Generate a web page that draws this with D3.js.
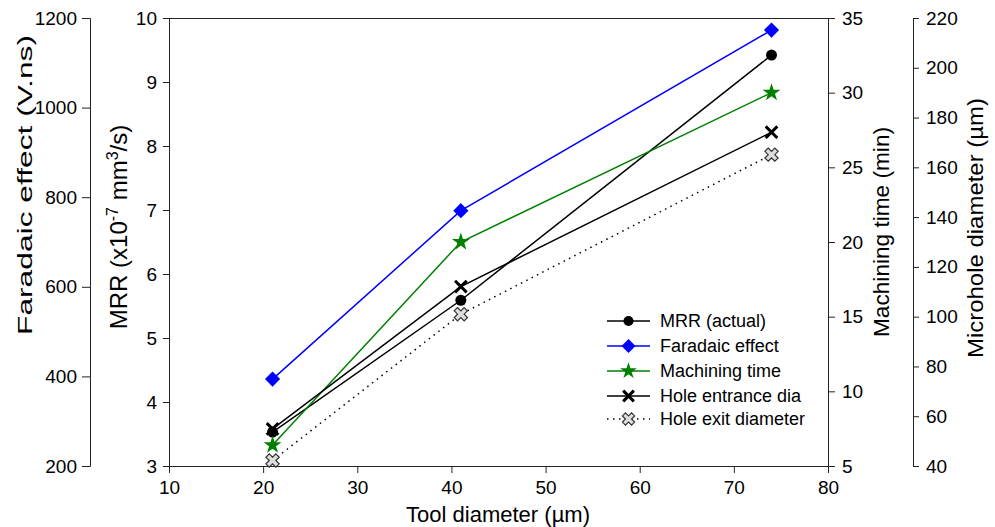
<!DOCTYPE html>
<html>
<head>
<meta charset="utf-8">
<script src="https://cdn.jsdelivr.net/npm/d3@7"></script>
<style>
    body { margin: 0; background: #fff; }
    svg { display: block; font-family: "Liberation Sans", Arial, sans-serif; }
    .axis text { font-size: 19px; fill: #000; }
    .axis path, .axis line { stroke: #222; }
    .title { font-size: 22px; fill: #000; }
    .legend text { font-size: 18px; fill: #000; }
</style>
</head>
<body>
<svg width="995" height="527"></svg>
<script>
// значения
const toolDiameter = [21, 41, 74];
const mrrActual = [3.53, 5.59, 9.42];
const faradaicEffect = [394, 770, 1173];
const machiningTime = [6.4, 20.0, 30.0];
const holeEntrance = [54.9, 112.1, 174.1];
const holeExit = [42.2, 101.0, 165.1];

const xTicks = [10, 20, 30, 40, 50, 60, 70, 80];
const mrrTicks = [3, 4, 5, 6, 7, 8, 9, 10];
const faradaicTicks = [200, 400, 600, 800, 1000, 1200];
const timeTicks = [5, 10, 15, 20, 25, 30, 35];
const holeTicks = [40, 60, 80, 100, 120, 140, 160, 180, 200, 220];

const legendNames = ["MRR (actual)", "Faradaic effect", "Machining time",
                     "Hole entrance dia", "Hole exit diameter"];

function drawChart() {
    const svg = d3.select("svg");
    const area = { left: 169, right: 828, top: 18, bottom: 466 };
    const fmt = d3.format("d");

    const scX = d3.scaleLinear().domain([10, 80]).range([area.left, area.right]);
    const yRange = [area.bottom, area.top];
    const scMrr = d3.scaleLinear().domain([3, 10]).range(yRange);
    const scFar = d3.scaleLinear().domain([200, 1200]).range(yRange);
    const scTime = d3.scaleLinear().domain([5, 35]).range(yRange);
    const scHole = d3.scaleLinear().domain([40, 220]).range(yRange);

    // оси
    svg.append("g").attr("class", "axis")
    .attr("transform", `translate(0, ${area.bottom})`)
    .call(d3.axisBottom(scX).tickValues(xTicks).tickFormat(fmt)
          .tickSizeOuter(0).tickSize(7).tickPadding(8));

    svg.append("g").attr("class", "axis")
    .attr("transform", `translate(${area.left}, 0)`)
    .call(d3.axisLeft(scMrr).tickValues(mrrTicks).tickFormat(fmt)
          .tickSizeOuter(0).tickSize(6).tickPadding(6));

    svg.append("g").attr("class", "axis")
    .attr("transform", `translate(90, 0)`)
    .call(d3.axisLeft(scFar).tickValues(faradaicTicks).tickFormat(fmt)
          .tickSizeOuter(0).tickSize(8).tickPadding(5));

    svg.append("g").attr("class", "axis")
    .attr("transform", `translate(${area.right}, 0)`)
    .call(d3.axisRight(scTime).tickValues(timeTicks).tickFormat(fmt)
          .tickSizeOuter(0).tickSize(7).tickPadding(7));

    svg.append("g").attr("class", "axis")
    .attr("transform", `translate(913, 0)`)
    .call(d3.axisRight(scHole).tickValues(holeTicks).tickFormat(fmt)
          .tickSizeOuter(0).tickSize(6).tickPadding(7));

    // верхняя рамка
    svg.append("line")
    .attr("x1", area.left).attr("x2", area.right)
    .attr("y1", area.top + 0.5).attr("y2", area.top + 0.5)
    .attr("stroke", "#222");

    // подписи осей
    svg.append("text").attr("class", "title")
    .attr("x", 498).attr("y", 522).attr("text-anchor", "middle")
    .attr("textLength", 184).attr("lengthAdjust", "spacingAndGlyphs")
    .text("Tool diameter (\u00b5m)");

    svg.append("text").attr("class", "title")
    .attr("transform", "translate(32, 185) rotate(-90)").attr("text-anchor", "middle")
    .style("font-size", "21px")
    .attr("textLength", 300).attr("lengthAdjust", "spacingAndGlyphs")
    .text("Faradaic effect (V.ns)");

    const mrrTitle = svg.append("text").attr("class", "title")
    .attr("transform", "translate(127, 227) rotate(-90)").attr("text-anchor", "middle")
    .style("font-size", "24px");
    mrrTitle.append("tspan").text("MRR (x10");
    mrrTitle.append("tspan").attr("dy", -9).style("font-size", "16px").text("-7");
    mrrTitle.append("tspan").attr("dy", 9).text(" mm");
    mrrTitle.append("tspan").attr("dy", -9).style("font-size", "16px").text("3");
    mrrTitle.append("tspan").attr("dy", 9).text("/s)");

    svg.append("text").attr("class", "title")
    .attr("transform", "translate(889, 232) rotate(-90)").attr("text-anchor", "middle")
    .attr("textLength", 210).attr("lengthAdjust", "spacingAndGlyphs")
    .text("Machining time (min)");

    svg.append("text").attr("class", "title")
    .attr("transform", "translate(983, 228) rotate(-90)").attr("text-anchor", "middle")
    .attr("textLength", 260).attr("lengthAdjust", "spacingAndGlyphs")
    .text("Microhole diameter (\u00b5m)");

    const series = [
        { values: mrrActual, sc: scMrr, color: "#000", dash: null, marker: "circle" },
        { values: faradaicEffect, sc: scFar, color: "#0000ff", dash: null, marker: "diamond" },
        { values: machiningTime, sc: scTime, color: "#008000", dash: null, marker: "star" },
        { values: holeEntrance, sc: scHole, color: "#000", dash: null, marker: "times" },
        { values: holeExit, sc: scHole, color: "#000", dash: "1.5,4.5", marker: "cross" }
    ];

    // линии
    series.forEach(s => {
        const pts = toolDiameter.map((x, i) => [scX(x), s.sc(s.values[i])]);
        svg.append("path")
        .attr("d", d3.line()(pts))
        .attr("fill", "none")
        .attr("stroke", s.color)
        .attr("stroke-width", 1.5)
        .attr("stroke-dasharray", s.dash);
    });

    // маркеры
    series.forEach(s => {
        toolDiameter.forEach((x, i) => {
            drawMarker(svg, s.marker, scX(x), s.sc(s.values[i]), s.color);
        });
    });

    // легенда
    const legend = svg.append("g").attr("class", "legend");
    const rowY = [321, 346, 371, 396, 419];
    series.forEach((s, i) => {
        legend.append("line")
        .attr("x1", 607).attr("x2", 650)
        .attr("y1", rowY[i]).attr("y2", rowY[i])
        .attr("stroke", s.color).attr("stroke-width", 1.5)
        .attr("stroke-dasharray", s.dash);
        drawMarker(legend, s.marker, 628.5, rowY[i], s.color, 0.85);
        legend.append("text")
        .attr("x", 660).attr("y", rowY[i]).attr("dy", "0.35em")
        .text(legendNames[i]);
    });
}

function drawMarker(g, type, x, y, color, k = 1) {
    if (type === "circle") {
        g.append("path").attr("d", d3.symbol(d3.symbolCircle, 95 * k)())
        .attr("transform", `translate(${x}, ${y})`).attr("fill", color);
    } else if (type === "diamond") {
        g.append("path").attr("d", d3.symbol(d3.symbolSquare, 115 * k)())
        .attr("transform", `translate(${x}, ${y}) rotate(45)`).attr("fill", color);
    } else if (type === "star") {
        g.append("path").attr("d", d3.symbol(d3.symbolStar, 100 * k)())
        .attr("transform", `translate(${x}, ${y})`).attr("fill", color);
    } else if (type === "times") {
        g.append("path").attr("d", d3.symbol(d3.symbolTimes, 90 * k)())
        .attr("transform", `translate(${x}, ${y})`)
        .attr("fill", "none").attr("stroke", color).attr("stroke-width", 3);
    } else if (type === "cross") {
        g.append("path").attr("d", d3.symbol(d3.symbolCross, 110 * k)())
        .attr("transform", `translate(${x}, ${y}) rotate(45)`)
        .attr("fill", "#ddd").attr("stroke", "#333").attr("stroke-width", 1.2);
    }
}

drawChart();
</script>
</body>
</html>
